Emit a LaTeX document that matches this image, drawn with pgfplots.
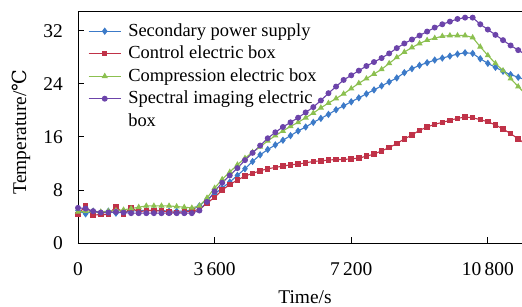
\documentclass[border=0pt]{standalone}
\usepackage{fontspec}
\setmainfont{Liberation Serif}
\newfontfamily\dvs{DejaVu Serif}
\usepackage{pgfplots}
\usepackage{pgfplotstable}
\pgfplotsset{compat=1.18}
\definecolor{cblue}{RGB}{60,122,200}
\definecolor{cred}{RGB}{192,50,72}
\definecolor{cgreen}{RGB}{140,192,80}
\definecolor{cpurple}{RGB}{108,68,170}
\pgfplotstableread{
t blue red green purple
0 4.9 4.3 4.7 5.3
200 4.4 5.6 4.8 5.2
400 4.8 4.2 4.8 4.8
600 4.5 4.3 4.7 4.6
800 4.8 4.3 4.8 4.6
1000 4.5 5.5 4.9 4.7
1200 4.7 4.4 5.0 4.6
1400 4.8 5.3 5.2 4.5
1600 4.9 4.7 5.4 4.5
1800 4.9 4.9 5.6 4.5
2000 4.9 4.9 5.6 4.5
2200 4.9 4.8 5.6 4.5
2400 4.8 4.7 5.6 4.5
2600 4.8 4.6 5.5 4.5
2800 4.8 4.7 5.4 4.5
3000 5.0 4.8 5.3 4.5
3200 5.6 5.1 5.6 4.9
3400 6.6 6.0 6.8 6.2
3600 7.4 6.9 8.3 7.8
3800 8.3 8.0 9.6 9.1
4000 9.2 8.8 10.7 10.2
4200 10.2 9.5 11.8 11.3
4400 11.2 10.1 12.8 12.5
4600 12.3 10.5 13.7 13.6
4800 13.3 10.9 14.5 14.7
5000 14.1 11.2 15.4 15.8
5200 14.8 11.4 16.2 16.7
5400 15.5 11.6 16.9 17.5
5600 16.2 11.8 17.6 18.2
5800 16.9 11.9 18.2 18.9
6000 17.5 12.1 18.9 19.7
6200 18.2 12.3 19.6 20.5
6400 18.8 12.4 20.4 21.5
6600 19.4 12.5 21.1 22.6
6800 20.1 12.6 21.8 23.6
7000 20.7 12.6 22.5 24.6
7200 21.3 12.7 23.3 25.3
7400 21.9 12.8 24.1 26.0
7600 22.5 13.1 24.8 26.7
7800 23.1 13.4 25.5 27.3
8000 23.7 13.9 26.2 27.9
8200 24.3 14.4 27.1 28.6
8400 24.9 15.0 28.0 29.4
8600 25.7 15.7 28.8 30.1
8800 26.3 16.3 29.5 30.7
9000 26.8 17.0 30.1 31.3
9200 27.2 17.5 30.6 31.9
9400 27.6 17.9 30.9 32.5
9600 27.9 18.2 31.2 33.0
9800 28.2 18.5 31.3 33.4
10000 28.5 18.8 31.3 33.8
10200 28.7 19.0 31.3 34.0
10400 28.6 18.9 31.0 34.0
10600 27.8 18.6 29.6 33.0
10800 27.1 18.3 28.3 32.2
11000 26.5 17.8 27.1 31.4
11200 25.9 17.2 26.0 30.6
11400 25.4 16.5 24.8 29.8
11600 25.0 15.7 23.6 29.1
11800 24.6 14.9 22.4 28.4
}\data
\begin{document}
\begin{tikzpicture}
\begin{axis}[
  scale only axis, width=444bp, height=232bp,
  xmin=0, xmax=11700, ymin=0, ymax=35,
  xtick={0,3600,7200,10800},
  xticklabels={0,3\,600,7\,200,10\,800},
  ytick={0,8,16,24,32},
  /pgf/number format/assume math mode=true,
  axis x line=box, axis y line=left,
  axis line style={-, line width=0.9bp, black},
  every outer x axis line/.append style={-},
  every outer y axis line/.append style={-},
  xtick pos=left, ytick pos=left,
  tick align=inside, major tick length=6bp,
  tick style={line width=0.9bp, black},
  tick label style={font=\fontsize{19.5}{22}\selectfont},
  yticklabel style={anchor=east, inner sep=0pt, xshift=-15bp},
  xticklabel style={anchor=base, inner sep=0pt, yshift=-32bp},
  xlabel={Time/s}, ylabel={Temperature/{\dvs ℃}},
  every axis x label/.style={at={(axis description cs:0.5113,-0.2629)}, anchor=base, font=\fontsize{19.5}{22}\selectfont},
  every axis y label/.style={at={(axis description cs:-0.1171,0.4784)}, rotate=90, anchor=base, font=\fontsize{19.5}{22}\selectfont},
  legend cell align=left,
  legend image code/.code={\draw[mark repeat=2,mark phase=2] plot coordinates {(0bp,0bp)(16bp,0bp)(32bp,0bp)};},
  legend style={at={(axis description cs:0,1)}, anchor=north west, xshift=10bp, yshift=-11bp,
    draw=none, fill=none, inner sep=0pt, row sep=4.5bp,
    font=\fontsize{18.5}{22.5}\selectfont,
    nodes={inner sep=0pt, text height=14bp, text depth=4bp},
    /tikz/every odd column/.append style={column sep=7bp}},
  every axis plot/.append style={line width=1.1bp},
]
\addplot[cblue, mark=diamond*, mark size=2.8bp] table[x=t, y=blue] {\data};
\addlegendentry{Secondary power supply}
\addplot[cred, mark=square*, mark size=2.2bp] table[x=t, y=red] {\data};
\addlegendentry{Control electric box}
\addplot[cgreen, mark=triangle*, mark size=2.5bp] table[x=t, y=green] {\data};
\addlegendentry{Compression electric box}
\addplot[cpurple, mark=*, mark size=2.4bp] table[x=t, y=purple] {\data};
\addlegendentry{\parbox[t]{8cm}{Spectral imaging electric\\box}}
\coordinate (O) at (rel axis cs:0,0);
\end{axis}
\pgfresetboundingbox
\useasboundingbox ([xshift=-78bp,yshift=-64bp]O) rectangle ([xshift=444bp,yshift=243bp]O);
\end{tikzpicture}
\end{document}
